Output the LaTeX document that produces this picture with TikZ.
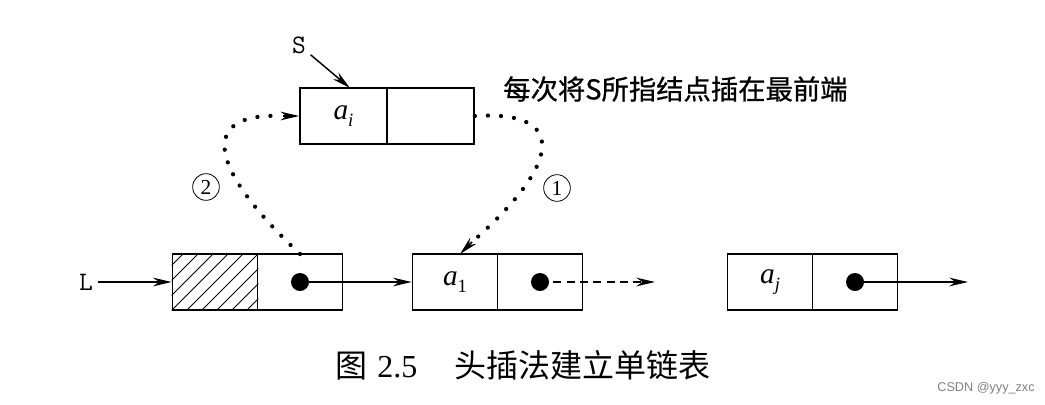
\documentclass[tikz,border=0pt]{standalone}
\usepackage{fontspec}
\setmainfont{Liberation Serif}
\newfontfamily\cjk{Noto Sans CJK SC}
\newfontfamily\cjkb[FakeBold=0.7]{Noto Sans CJK SC}
\newfontfamily\sansf{Liberation Sans}
\usetikzlibrary{arrows.meta}
\begin{document}
\begin{tikzpicture}[x=0.75pt,y=-0.75pt,
  cell/.style={draw,line width=1.3pt,minimum width=63.75pt,minimum height=42pt,inner sep=0pt,anchor=center},
  topcell/.style={cell,minimum width=65.25pt},
  arr/.style={line width=1.1pt,-{Stealth[length=14pt,width=6.5pt]}},
  dotline/.style={line width=3.2pt,line cap=round,dash pattern=on 0pt off 9.8pt},
  ptr/.style={circle,fill=black,minimum size=13.5pt,inner sep=0pt},
  num/.style={circle,draw,line width=0.6pt,minimum size=20pt,inner sep=0pt,font=\fontsize{16}{16}\selectfont},
  elem/.style={font=\fontsize{22}{22}\selectfont},
  mono/.style={font=\ttfamily\fontsize{20}{20}\selectfont}]
\useasboundingbox (0,0) rectangle (1045,404);
\fill[white] (0,0) rectangle (1045,404);

% top node
\node[topcell] (ti) at (343.5,116) {};
\node[topcell] (tp) at (430.5,116) {};
\node[elem] (tit) at (ti) {\itshape a\raisebox{-0.25em}{\fontsize{14}{14}\selectfont i}};

% head node
\node[cell] (hd) at (215,282) {};
\node[cell] (hp) at (300,282) {};
\begin{scope}
  \clip (hd.south west) rectangle (hd.north east);
  \foreach \x in {110,125,...,260} \draw[line width=0.7pt] (\x,312) -- ++(62,-62);
\end{scope}
\node[cell] (hd2) at (215,282) {};

% a1 node
\node[cell] (a1d) at (455,282) {};
\node[cell] (a1p) at (540,282) {};
\node[elem] (a1t) at (a1d) {\itshape a\raisebox{-0.25em}{\upshape\fontsize{14}{14}\selectfont 1}};

% aj node
\node[cell] (ajd) at (770,282) {};
\node[cell] (ajp) at (855,282) {};
\node[elem] (ajt) at (ajd) {\itshape a\raisebox{-0.25em}{\fontsize{14}{14}\selectfont j}};

% pointer dots
\node[ptr] (hdot) at (hp) {};
\node[ptr] (a1dot) at (a1p) {};
\node[ptr] (ajdot) at (ajp) {};

% labels
\node[mono] (L) at (86,282) {L};
\node[mono] (S) at (299,45) {S};
\coordinate (sEnd) at (350,88);

% connectors
\draw[arr] (L) -- (hd.west);
\draw[arr] (S) -- (sEnd);
\draw[arr] (hdot.center) -- (a1d.west);
\coordinate (e1) at (655,282);
\draw[arr,dash pattern=on 6pt off 4pt] (a1dot.center) -- (e1);
\coordinate (e2) at (968,282);
\draw[arr] (ajdot.center) -- (e2);

% dotted curves
\coordinate (c2s) at (300,254);
\coordinate (c2e) at (283,116);
\draw[dotline] (c2s) .. controls (205,165) and (200,112) .. (c2e);
\draw[arr] (c2e) -- (ti.west);
\coordinate (c1e) at (472,242);
\coordinate (c1t) at (460,254);
\draw[dotline] (tp.east) .. controls (570,110) and (560,165) .. (c1e);
\draw[arr] (c1e) -- (c1t);

\node[num] (n2) at (206,187) {2};
\node[num] (n1) at (557,188) {1};

% texts
\node[anchor=west,font=\cjkb\fontsize{20.5}{20.5}\selectfont,inner sep=0pt] (note) at (503,89) {每次将S所指结点插在最前端};
\node[font=\fontsize{24}{24}\selectfont,inner sep=0pt] (cap) at (523,365) {{\cjk 图}\hspace{0.3em}2.5\hspace{1.15em}{\cjk 头插法建立单链表}};
\node[font=\sansf\fontsize{9.5}{9.5}\selectfont,text=gray,inner sep=0pt] (wm) at (986,388) {CSDN @yyy\_zxc};
\end{tikzpicture}
\end{document}
